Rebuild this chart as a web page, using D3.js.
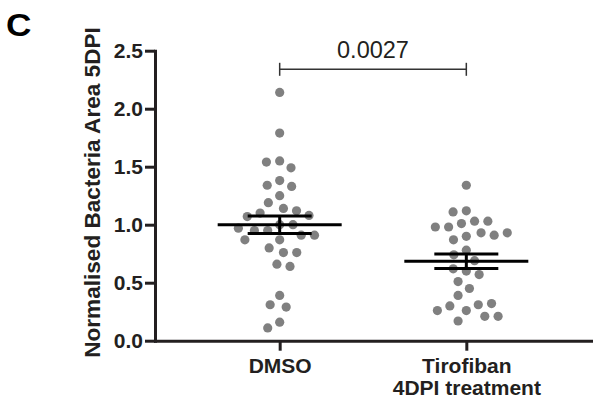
<!DOCTYPE html>
<html>
<head>
<meta charset="utf-8">
<script src="https://cdn.jsdelivr.net/npm/d3@7"></script>
<style>
  html, body { margin: 0; padding: 0; background: #fff; }
  svg { display: block; font-family: "Liberation Sans", Arial, sans-serif; }
</style>
</head>
<body>
<svg id="chart" width="604" height="404"></svg>
<script>
// ---- data ----
const categories = ["DMSO", "Tirofiban\n4DPI treatment"];
const dmsoValues = [2.14, 1.79, 1.55, 1.54, 1.49, 1.38, 1.34, 1.33, 1.25, 1.19, 1.14, 1.12,
  1.10, 1.08, 1.07, 1.00, 1.00, 0.95, 0.95, 0.91, 0.91, 0.87, 0.87, 0.80, 0.76, 0.76,
  0.66, 0.64, 0.39, 0.31, 0.29, 0.16, 0.11, 0.97];
const tirofibanValues = [1.34, 1.12, 1.11, 1.03, 1.01, 1.03, 0.98, 0.98, 0.93, 0.90, 0.87,
  0.91, 0.93, 0.78, 0.74, 0.69, 0.60, 0.62, 0.57, 0.51, 0.45, 0.39, 0.26, 0.31, 0.30,
  0.32, 0.26, 0.21, 0.17, 0.21];
const means = [1.00, 0.685];
const sems = [0.075, 0.062];
const yTicks = [0, 0.5, 1.0, 1.5, 2.0, 2.5];
const pValueLabel = "0.0027";
const yTitle = "Normalised Bacteria Area 5DPI";
const panelLetter = "C";

// ---- layout ----
const svg = d3.select("#chart");
const x = d3.scalePoint().domain(categories).range([155, 591]).padding(0.668);
const y = d3.scaleLinear().domain([0, 2.5]).range([340.7, 50.7]);
const axisColor = "#231f20";
const dotColor = "#808080";
const dotR = 4.6;
const swarmD = 13.3;

// beeswarm layout (greedy, closest to centre)
function swarm(values) {
  const placed = [];
  values.forEach(v => {
    const py = y(v);
    const near = placed.filter(p => Math.abs(p.y - py) < swarmD);
    const cands = [0];
    near.forEach(p => {
      const dx = Math.sqrt(swarmD * swarmD - (p.y - py) ** 2);
      cands.push(p.dx + dx, p.dx - dx);
    });
    cands.sort((a, b) => Math.abs(a) - Math.abs(b) || a - b);
    let chosen = 0;
    for (const c of cands) {
      if (near.every(p => (p.dx - c) ** 2 + (p.y - py) ** 2 >= swarmD * swarmD - 0.01)) { chosen = c; break; }
    }
    placed.push({ dx: chosen, y: py, v });
  });
  return placed;
}

const groups = [dmsoValues, tirofibanValues];
groups.forEach((vals, gi) => {
  const cx = x(categories[gi]);
  svg.append("g").selectAll("circle").data(swarm(vals)).join("circle")
    .attr("cx", d => cx + d.dx)
    .attr("cy", d => d.y)
    .attr("r", dotR)
    .attr("fill", dotColor);
});

// mean +/- SEM
groups.forEach((vals, gi) => {
  const cx = x(categories[gi]);
  const g = svg.append("g").attr("stroke", "#000").attr("stroke-width", 3);
  g.append("line").attr("x1", cx - 62).attr("x2", cx + 62)
    .attr("y1", y(means[gi])).attr("y2", y(means[gi]));
  [means[gi] + sems[gi], means[gi] - sems[gi]].forEach(v => {
    g.append("line").attr("x1", cx - 32).attr("x2", cx + 32).attr("y1", y(v)).attr("y2", y(v));
  });
  g.append("line").attr("x1", cx).attr("x2", cx)
    .attr("y1", y(means[gi] + sems[gi])).attr("y2", y(means[gi] - sems[gi]));
});

// axes
const yAxis = svg.append("g").attr("transform", "translate(155,0)")
  .call(d3.axisLeft(y).tickValues(yTicks).tickFormat(d3.format(".1f")).tickSize(10).tickSizeOuter(0).tickPadding(2));
const xAxis = svg.append("g").attr("transform", "translate(0,340.7)")
  .call(d3.axisBottom(x).tickSize(10).tickSizeOuter(0).tickFormat(""));
[yAxis, xAxis].forEach(a => {
  a.selectAll("path, line").attr("stroke", axisColor).attr("stroke-width", 3);
  a.select(".domain").attr("stroke-linecap", "square");
});
yAxis.selectAll("text").attr("fill", axisColor).attr("font-size", 21).attr("font-weight", "bold")
  .attr("font-family", "Liberation Sans, Arial, sans-serif");

xAxis.selectAll(".tick").each(function (d) {
  const t = d3.select(this).append("text")
    .attr("fill", axisColor).attr("font-size", 21).attr("font-weight", "bold")
    .attr("font-family", "Liberation Sans, Arial, sans-serif")
    .attr("text-anchor", "middle");
  d.split("\n").forEach((line, i) => {
    t.append("tspan").attr("x", 0).attr("y", 32.6 + i * 22).text(line);
  });
});

// y title
svg.append("text")
  .attr("transform", "translate(100,192.5) rotate(-90)")
  .attr("text-anchor", "middle")
  .attr("fill", axisColor).attr("font-size", 22.6).attr("font-weight", "bold")
  .text(yTitle);

// panel letter
svg.append("text").attr("transform", "translate(6,36) scale(1.1,1)")
  .attr("fill", "#000").attr("font-size", 32).attr("font-weight", "bold")
  .text(panelLetter);

// significance bracket
const bx1 = x(categories[0]), bx2 = x(categories[1]);
const by = 69.3;
const br = svg.append("g").attr("stroke", "#333").attr("stroke-width", 1.5);
br.append("line").attr("x1", bx1).attr("x2", bx2).attr("y1", by).attr("y2", by);
[bx1, bx2].forEach(bx => br.append("line").attr("x1", bx).attr("x2", bx).attr("y1", by - 6.5).attr("y2", by + 6.5));
svg.append("text").attr("x", (bx1 + bx2) / 2).attr("y", 58.3)
  .attr("text-anchor", "middle").attr("font-size", 23.5).attr("fill", "#231f20")
  .text(pValueLabel);
</script>
</body>
</html>
